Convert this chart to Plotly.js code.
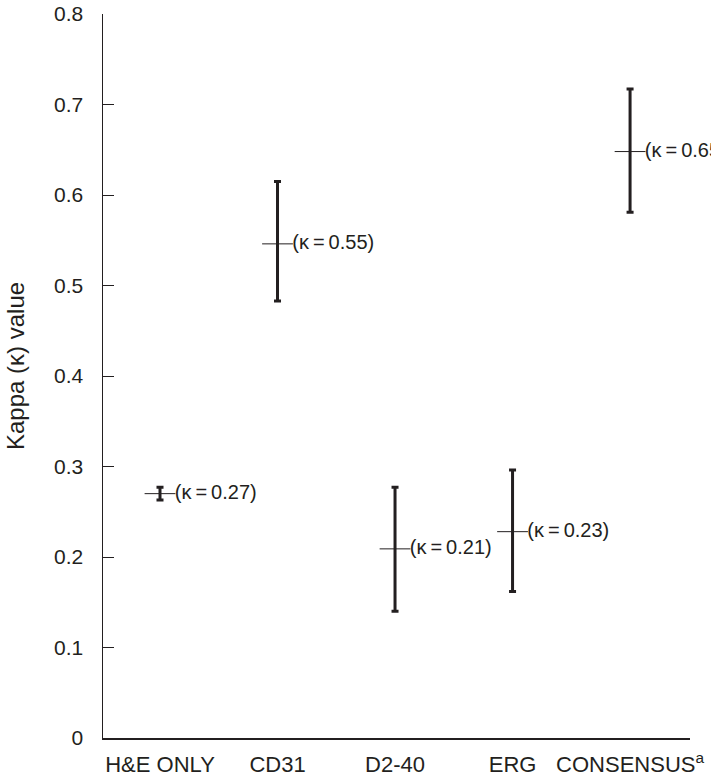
<!DOCTYPE html>
<html>
<head>
<meta charset="utf-8">
<script src="https://cdn.plot.ly/plotly-3.0.1.min.js"></script>
<style>html,body{margin:0;padding:0;background:#fff;}#chart{width:711px;height:777px;}</style>
</head>
<body>
<div id="chart"></div>
<script>
// Data
const categories = ["H&E ONLY", "CD31", "D2-40", "ERG", "CONSENSUS"];
const tickLabels = ["H&E ONLY", "CD31", "D2-40", "ERG", "CONSENSUS<sup>a</sup>"];
const kappa = [0.270, 0.546, 0.209, 0.228, 0.648];
const upperCI = [0.277, 0.615, 0.277, 0.296, 0.717];
const lowerCI = [0.263, 0.483, 0.140, 0.162, 0.581];
const labels = ["(κ\u2009=\u20090.27)", "(κ\u2009=\u20090.55)", "(κ\u2009=\u20090.21)", "(κ\u2009=\u20090.23)", "(κ\u2009=\u20090.65)"];
const yTickVals = [0, 0.1, 0.2, 0.3, 0.4, 0.5, 0.6, 0.7, 0.8];
const yTickText = ['0', '0.1', '0.2', '0.3', '0.4', '0.5', '0.6', '0.7', '0.8'];

const errPlus = kappa.map((v, i) => upperCI[i] - v);
const errMinus = kappa.map((v, i) => v - lowerCI[i]);

const FONT = '"Liberation Sans Narrow", "Arial Narrow", "Liberation Sans", Arial, sans-serif';
const INK = '#231f20';

const trace = {
  type: 'scatter',
  mode: 'markers+text',
  x: categories,
  y: kappa,
  text: labels,
  textposition: 'middle right',
  textfont: {family: FONT, size: 20, color: INK},
  cliponaxis: false,
  marker: {symbol: 'line-ew', size: 22, line: {width: 1, color: INK}, color: INK},
  error_y: {
    type: 'data', symmetric: false,
    array: errPlus, arrayminus: errMinus,
    color: INK, thickness: 3, width: 3.5
  },
  hoverinfo: 'skip',
  showlegend: false
};

const layout = {
  width: 711, height: 777,
  margin: {l: 103, r: 21, t: 14, b: 39, pad: 0},
  paper_bgcolor: '#fff', plot_bgcolor: '#fff',
  font: {family: FONT, color: INK},
  xaxis: {
    type: 'category',
    range: [-0.485, 4.51],
    tickvals: categories,
    ticktext: tickLabels,
    showline: true, linecolor: INK, linewidth: 1.5,
    showgrid: false, zeroline: false,
    ticks: '',
    tickfont: {family: FONT, size: 22, color: INK},
    ticklabelstandoff: 6
  },
  yaxis: {
    range: [0, 0.8],
    tickvals: yTickVals,
    ticktext: yTickText,
    showline: true, linecolor: INK, linewidth: 1.5,
    showgrid: false, zeroline: false,
    ticks: 'inside', ticklen: 11, tickwidth: 1, tickcolor: INK,
    tickfont: {family: FONT, size: 21, color: INK},
    ticklabelstandoff: 14
  },
  annotations: [{
    text: 'Kappa (κ) value',
    textangle: -90,
    xref: 'paper', yref: 'paper',
    x: -0.148, y: 0.514,
    xanchor: 'center', yanchor: 'middle',
    showarrow: false,
    font: {family: '"Liberation Sans", Arial, sans-serif', size: 24, color: INK}
  }]
};

Plotly.newPlot('chart', [trace], layout, {displayModeBar: false, staticPlot: true});
</script>
</body>
</html>
